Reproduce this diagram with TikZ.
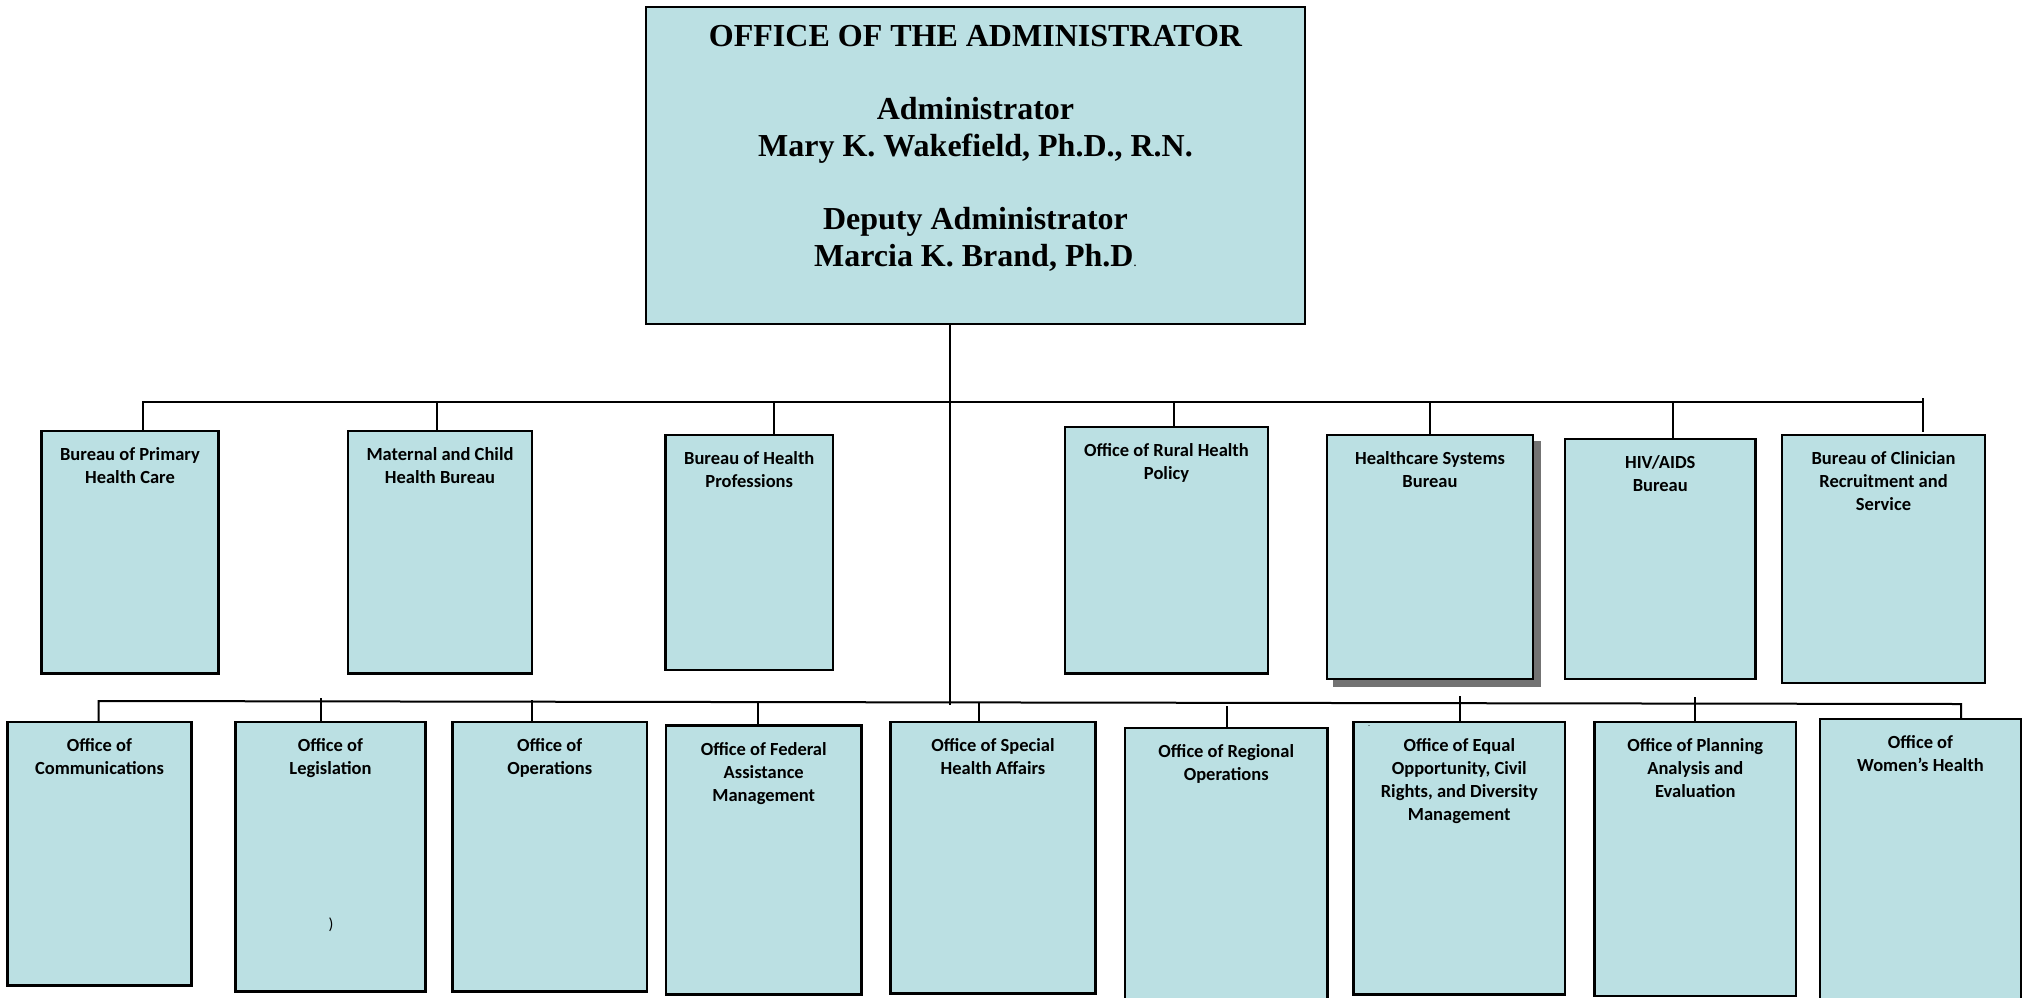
\documentclass[tikz,border=0pt]{standalone}
\usepackage{fontspec}
\setmainfont{Liberation Serif}
\newfontfamily\boxfont{Carlito}
\definecolor{orgfill}{RGB}{187,224,227}
\definecolor{shade}{RGB}{115,115,115}
% zero-width strut that fixes the top of a label above its first baseline
\newcommand\capstrut[1]{\rule{0pt}{#1}}
% unit box given by its corners (x1,y1)-(x2,y2), label hung from its top edge
\newcommand\orgunit[6]{%
  \node[unit, minimum width={#4-#2}, minimum height={#5-#3}] (#1) at ({(#2+#4)/2},{(#3+#5)/2}) {};
  \node[lbl] (#1-t) at ([yshift=-15.5pt]#1.north) {\capstrut{14pt}#6};
}
\begin{document}
\begin{tikzpicture}[x=1pt,y=-1pt,
  unit/.style={draw=black, line width=2.4pt, fill=orgfill, inner sep=0pt, outer sep=0pt},
  lbl/.style={font=\boxfont\bfseries\fontsize{18.5}{23}\selectfont, align=center, inner sep=0pt, anchor=north},
  headtext/.style={font=\bfseries\fontsize{32}{36.5}\selectfont, align=center, inner sep=0pt, anchor=north},
  link/.style={draw=black, line width=2pt},
]
\useasboundingbox (0,0) rectangle (2026,997);
\clip (0,0) rectangle (2026,997);

% head office
\node[unit, minimum width=659, minimum height=317] (top) at (975.5,165.5) {};
\node[headtext] (top-t) at ([yshift=-15pt]top.north) {\capstrut{24pt}OFFICE OF THE ADMINISTRATOR\\[37pt]
  Administrator\\Mary K. Wakefield, Ph.D., R.N.\\[37pt]
  Deputy Administrator\\Marcia K. Brand, Ph.D{\mdseries\fontsize{14}{14}\selectfont.}};

% bureaus
\orgunit{bphc}{41.5}{431}{218.5}{673.5}{Bureau of Primary\\Health Care}
\orgunit{mchb}{348}{431}{532}{673.5}{Maternal and Child\\Health Bureau}
\orgunit{bhpr}{665.5}{435}{833}{670}{Bureau of Health\\Professions}
\orgunit{orhp}{1065}{427}{1268}{673.5}{Office of Rural Health\\Policy}
% drop shadow behind the Healthcare Systems Bureau
\node[fill=shade, inner sep=0pt, outer sep=0pt, minimum width=208, minimum height=246] (hsb-shadow) at (1437,564) {};
\orgunit{hsb}{1327}{435}{1533}{679}{Healthcare Systems\\Bureau}
\orgunit{hab}{1565}{439}{1755.5}{679}{HIV/AIDS\\Bureau}
\orgunit{bcrs}{1782}{435}{1985}{683}{Bureau of Clinician\\Recruitment and\\Service}

% staff offices
\orgunit{comm}{7.5}{722}{191.5}{985.5}{Office of\\Communications}
\orgunit{legis}{235.5}{722}{425.5}{991.5}{Office of\\Legislation}
\orgunit{ops}{452.5}{722}{647}{991.5}{Office of\\Operations}
\orgunit{fam}{666}{725.5}{861.5}{994.5}{Office of Federal\\Assistance\\Management}
\orgunit{osha}{890.5}{722}{1095.5}{993.5}{Office of Special\\Health Affairs}
\orgunit{oro}{1125}{728}{1327.5}{1003}{Office of Regional\\Operations}
\orgunit{oeo}{1353.5}{722}{1565}{994.5}{Office of Equal\\Opportunity, Civil\\Rights, and Diversity\\Management}
\orgunit{opae}{1594.5}{722}{1796}{996}{Office of Planning\\Analysis and\\Evaluation}
\orgunit{owh}{1820}{719}{2021}{1003}{Office of\\Women’s Health}

\node[font=\boxfont\fontsize{16}{16}\selectfont, inner sep=0pt] (legis-mark) at (331,925) {)};
\node[font=\boxfont\fontsize{8}{8}\selectfont, inner sep=0pt] (oeo-mark) at (1369,726) {.};

% trunk from the head office
\coordinate (trunk) at (950,705);
\draw[link] (trunk |- top.south) -- (trunk);

% upper bus and its drops
\coordinate (tbL) at (143,402);
\coordinate (tbR) at (1923,402);
\draw[link] (tbL |- bphc.north) -- (tbL) -- (tbR);
\coordinate (j-mchb) at (437,402);
\coordinate (j-bhpr) at (774,402);
\coordinate (j-orhp) at (1173.5,402);
\coordinate (j-hsb) at (1430,402);
\coordinate (j-hab) at (1673,402);
\coordinate (j-bcrs) at (1923,398);
\draw[link] (j-mchb) -- (j-mchb |- mchb.north);
\draw[link] (j-bhpr) -- (j-bhpr |- bhpr.north);
\draw[link] (j-orhp) -- (j-orhp |- orhp.north);
\draw[link] (j-hsb) -- (j-hsb |- hsb.north);
\draw[link] (j-hab) -- (j-hab |- hab.north);
\draw[link] (j-bcrs) -- ([yshift=3pt]j-bcrs |- bcrs.north);

% lower bus and its drops
\coordinate (bbL) at (98.7,701);
\coordinate (bbR) at (1961,704);
\draw[link] (bbL |- comm.north) -- (bbL) -- (bbR) -- (bbR |- owh.north);
\coordinate (j-legis) at (321,698);
\coordinate (j-ops) at (531.7,700);
\coordinate (j-fam) at (758,702.5);
\coordinate (j-osha) at (979,703);
\coordinate (j-oro) at (1226.6,706);
\coordinate (j-oeo) at (1459.7,696);
\coordinate (j-opae) at (1695,697);
\draw[link] (j-legis) -- (j-legis |- legis.north);
\draw[link] (j-ops) -- (j-ops |- ops.north);
\draw[link] (j-fam) -- (j-fam |- fam.north);
\draw[link] (j-osha) -- (j-osha |- osha.north);
\draw[link] (j-oro) -- (j-oro |- oro.north);
\draw[link] (j-oeo) -- (j-oeo |- oeo.north);
\draw[link] (j-opae) -- (j-opae |- opae.north);
\end{tikzpicture}
\end{document}
